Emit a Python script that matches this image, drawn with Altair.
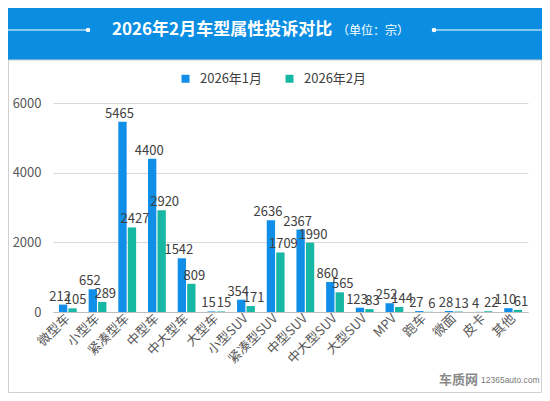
import altair as alt
import pandas as pd

categories = ["微型车", "小型车", "紧凑型车", "中型车", "中大型车", "大型车", "小型SUV", "紧凑型SUV",
              "中型SUV", "中大型SUV", "大型SUV", "MPV", "跑车", "微面", "皮卡", "其他"]
jan = [212, 652, 5465, 4400, 1542, 15, 354, 2636, 2367, 860, 123, 252, 27, 28, 4, 110]
feb = [105, 289, 2427, 2920, 809, 15, 171, 1709, 1990, 565, 83, 144, 6, 13, 22, 61]
series = ["2026年1月", "2026年2月"]
colors = ["#118EE8", "#16B8A4"]
y_ticks = [0, 1000, 2000, 3000, 4000, 5000, 6000]

rows = []
for c, a, b in zip(categories, jan, feb):
    rows.append({"cat": c, "series": series[0], "value": a})
    rows.append({"cat": c, "series": series[1], "value": b})
df = pd.DataFrame(rows)

FONT = "Noto Sans CJK SC"
W, H = 475, 209

x_enc = alt.X("cat:N", sort=categories, title=None,
              scale=alt.Scale(paddingInner=0.4, paddingOuter=0.2),
              axis=alt.Axis(labelAngle=-45, labelAlign="right", labelBaseline="middle",
                            labelFontSize=13, labelColor="#595959", labelFont=FONT,
                            ticks=False, domainColor="#BFBFBF", labelPadding=4, labelOverlap=False))
y_enc = alt.Y("value:Q", title=None,
              scale=alt.Scale(domain=[0, 6000], nice=False),
              axis=alt.Axis(values=y_ticks, format="d", labelFontSize=13, labelColor="#595959",
                            labelFont=FONT, labelOverlap=False,
                            ticks=False, domain=False, gridColor="#D9D9D9", labelPadding=12))
xo = alt.XOffset("series:N", sort=series, scale=alt.Scale(paddingInner=0.12))
col = alt.Color("series:N", sort=series, scale=alt.Scale(domain=series, range=colors),
                legend=alt.Legend(title=None, orient="none", legendX=126, legendY=-31,
                                  direction="horizontal", symbolType="square", symbolSize=64,
                                  symbolStrokeWidth=0, labelFontSize=13, labelColor="#404040",
                                  labelFont=FONT, columnPadding=20, labelOffset=8))

base = alt.Chart(df)
bars = base.mark_bar().encode(x=x_enc, y=y_enc, xOffset=xo, color=col)
labels_a = base.transform_filter(alt.datum.series == series[0]).mark_text(
    baseline="bottom", dy=-1, dx=-3, fontSize=13, color="#404040", font=FONT).encode(
    x=alt.X("cat:N", sort=categories), y="value:Q", xOffset=xo, text="value:Q")
labels_b = base.transform_filter(alt.datum.series == series[1]).mark_text(
    baseline="bottom", dy=-1, dx=3, fontSize=13, color="#404040", font=FONT).encode(
    x=alt.X("cat:N", sort=categories), y="value:Q", xOffset=xo, text="value:Q")

deco = pd.DataFrame({"k": [0]})
dchart = alt.Chart(deco)
header = dchart.mark_rect(color="#0B8EE2").encode(
    x=alt.value(-53), x2=alt.value(497), y=alt.value(-103), y2=alt.value(-43))
border = dchart.mark_rect(fill=None, stroke="#D0D0D0", strokeWidth=1).encode(
    x=alt.value(-44.5), x2=alt.value(488.5), y=alt.value(-43), y2=alt.value(289.5))
line_l = dchart.mark_rule(color="white", strokeWidth=1).encode(
    x=alt.value(-53), x2=alt.value(35), y=alt.value(-73))
line_r = dchart.mark_rule(color="white", strokeWidth=1).encode(
    x=alt.value(381), x2=alt.value(497), y=alt.value(-73))
dot_l = dchart.mark_circle(color="white", opacity=1, size=20).encode(
    x=alt.value(35), y=alt.value(-73))
dot_r = dchart.mark_circle(color="white", opacity=1, size=20).encode(
    x=alt.value(381), y=alt.value(-73))
title_main = dchart.mark_text(text="2026年2月车型属性投诉对比", align="left", baseline="middle",
                              fontSize=17, fontWeight="bold", color="white", font=FONT).encode(
    x=alt.value(59), y=alt.value(-73))
title_sub = dchart.mark_text(text="（单位：宗）", align="left", baseline="middle",
                             fontSize=12, color="white", font=FONT).encode(
    x=alt.value(284), y=alt.value(-72))
wm1 = dchart.mark_text(text="车质网", align="left", baseline="bottom", fontSize=13,
                       fontWeight="bold", color="#8A8A8A", font=FONT).encode(
    x=alt.value(386), y=alt.value(284))
wm2 = dchart.mark_text(text="12365auto.com", align="left", baseline="bottom", fontSize=8.5,
                       color="#7A7A7A", font="Liberation Sans").encode(
    x=alt.value(428), y=alt.value(282))

chart = alt.layer(header, border, line_l, line_r, dot_l, dot_r, title_main, title_sub,
                  bars, labels_a, labels_b, wm1, wm2).properties(
    width=W, height=H,
    autosize=alt.AutoSizeParams(type="none"),
    padding={"left": 45, "top": 95, "right": 14, "bottom": 81},
    background="white",
).configure_view(stroke=None)

chart.save("out.html", embed_options={"renderer": "svg", "actions": False})
